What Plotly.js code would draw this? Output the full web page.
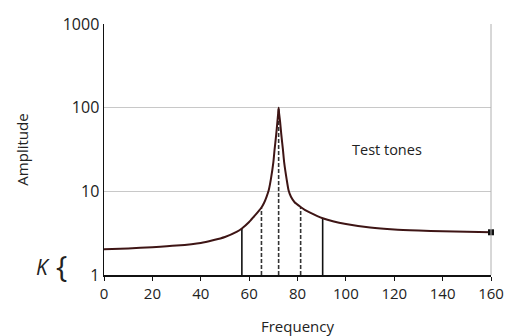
<!DOCTYPE html>
<html>
<head>
<meta charset="utf-8">
<script src="https://cdn.plot.ly/plotly-3.0.1.min.js"></script>
<style>html,body{margin:0;padding:0;background:#fff;}#chart{width:510px;height:336px;}</style>
</head>
<body>
<div id="chart"></div>
<script>
// Response curve (frequency vs amplitude)
const curveFreq = [0, 10, 20, 30, 40, 45, 50, 55, 57, 60, 62, 63.5, 65.1, 66.2, 67.2, 68.1, 69.0, 70.0, 70.5, 71.2, 71.7, 72.0, 72.2, 72.4, 72.8, 73.3, 74.0, 74.5, 75.5, 76.3, 77.3, 78.8, 81.3, 83, 85, 90.4, 95, 100, 110, 120, 130, 140, 150, 160];
const curveAmp  = [2.03, 2.08, 2.15, 2.25, 2.42, 2.6, 2.85, 3.3, 3.6, 4.3, 5.0, 5.6, 6.4, 7.3, 8.6, 10.3, 14, 22, 31, 48, 68, 85, 100, 85, 68, 48, 31, 22, 14, 10.3, 8.6, 7.4, 6.5, 6.0, 5.6, 4.76, 4.35, 4.07, 3.7, 3.5, 3.4, 3.33, 3.28, 3.24];
// Test tones (vertical lines from 1 up to the curve)
const toneFreq = [57, 65.1, 72.2, 81.3, 90.4];
const toneAmp  = [3.6, 6.4, 100, 6.5, 4.76];
// Last point marker
const endFreq = [160];
const endAmp = [3.24];
// Axis ticks
const xTicks = [0, 20, 40, 60, 80, 100, 120, 140, 160];
const yTicks = [1, 10, 100, 1000];
const yTickText = ['1', '10', '100', '1000'];

const FONT = 'Open Sans, Noto Sans, DejaVu Sans, sans-serif';
const traces = [];
toneFreq.forEach((f, i) => {
  const dashed = (i >= 1 && i <= 3);
  traces.push({
    x: [f, f], y: [1, toneAmp[i]], type: 'scatter', mode: 'lines',
    line: {color: dashed ? '#333' : '#111', width: 1.6, dash: dashed ? '4px,2px' : 'solid'},
    hoverinfo: 'skip', showlegend: false
  });
});
traces.push({
  x: curveFreq, y: curveAmp, type: 'scatter', mode: 'lines',
  line: {color: '#3e1515', width: 2, shape: 'spline', smoothing: 0.5},
  showlegend: false
});
traces.push({
  x: endFreq, y: endAmp, type: 'scatter', mode: 'markers', cliponaxis: false,
  marker: {symbol: 'square', size: 6, color: '#111'}, showlegend: false
});

const layout = {
  width: 510, height: 336,
  margin: {l: 104, r: 19, t: 24, b: 61},
  paper_bgcolor: '#fff', plot_bgcolor: '#fff',
  font: {family: FONT, color: '#222', size: 15},
  xaxis: {
    range: [0, 160], tickmode: 'array', tickvals: xTicks,
    showgrid: false, zeroline: false,
    showline: true, linecolor: '#111', linewidth: 1.5,
    ticks: 'outside', ticklen: 4, tickcolor: '#111', tickwidth: 1,
    tickfont: {size: 15, family: FONT, color: '#222'},
    title: {text: 'Frequency', font: {size: 15, family: FONT, color: '#222'}, standoff: 24}
  },
  yaxis: {
    type: 'log', range: [0, 3],
    tickmode: 'array', tickvals: yTicks, ticktext: yTickText,
    showgrid: true, gridcolor: '#c8c8c8', gridwidth: 1,
    zeroline: false, showline: true, linecolor: '#111', linewidth: 1.5,
    ticks: '', ticklen: 0,
    tickfont: {size: 16, family: FONT, color: '#222'},
    title: {text: 'Amplitude', font: {size: 15, family: FONT, color: '#222'}, standoff: 30}
  },
  shapes: [
    {type: 'line', xref: 'paper', yref: 'paper', x0: 1, x1: 1, y0: 0, y1: 1,
     line: {color: '#b0b0b0', width: 1}}
  ],
  annotations: [
    {text: 'Test tones', xref: 'paper', yref: 'paper', x: 0.73, y: 0.50,
     xanchor: 'center', yanchor: 'middle',
     showarrow: false, font: {size: 14.5, family: FONT, color: '#222'}},
    {text: '<i>K</i>', xref: 'paper', yref: 'paper', x: -0.158, y: 0.032,
     xanchor: 'center', yanchor: 'middle',
     showarrow: false, font: {size: 21, family: FONT, color: '#222'}},
    {text: '{', xref: 'paper', yref: 'paper', x: -0.109, y: 0.036,
     xanchor: 'center', yanchor: 'middle',
     showarrow: false, font: {size: 30, family: 'Open Sans, sans-serif', color: '#222'}}
  ]
};

Plotly.newPlot('chart', traces, layout, {displayModeBar: false, staticPlot: true});
</script>
</body>
</html>
